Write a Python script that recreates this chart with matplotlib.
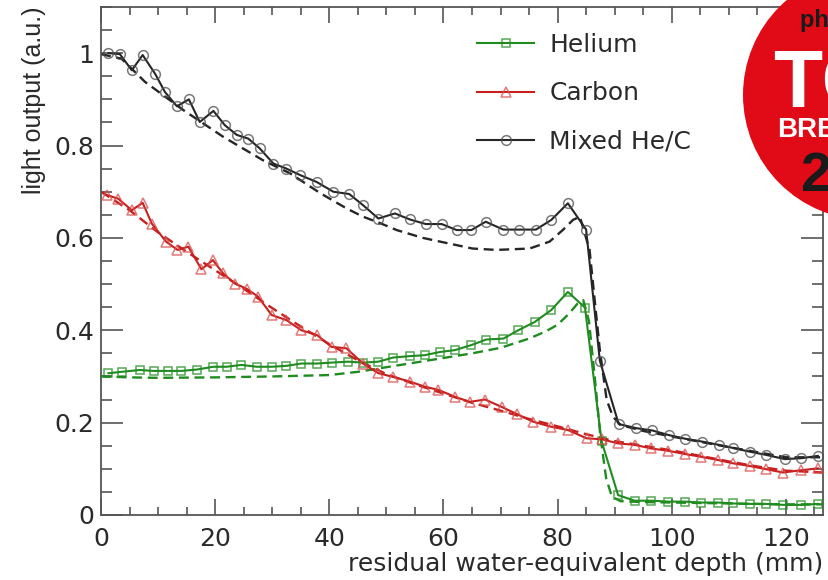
import matplotlib
matplotlib.use("Agg")
import matplotlib.pyplot as plt
from matplotlib.patches import Ellipse
from matplotlib.ticker import MultipleLocator, FuncFormatter

plt.rcParams['font.family'] = ['DejaVu Sans']

# ---------------- data ----------------
he_x = [1.3, 3.6, 6.8, 9.2, 11.8, 14.1, 16.8, 19.7, 22.0, 24.6, 27.3, 29.9, 32.5, 35.1,
        37.8, 40.4, 43.3, 45.9, 48.6, 51.2, 54.1, 56.7, 59.4, 62.0, 64.9, 67.5, 70.5,
        73.1, 76.0, 78.9, 81.8, 84.8, 87.7, 90.6, 93.5, 96.4, 99.4, 102.3, 105.2, 108.1,
        110.7, 113.7, 116.6, 119.5, 122.7, 125.6]
he_y = [0.307, 0.310, 0.314, 0.312, 0.312, 0.312, 0.315, 0.321, 0.321, 0.325, 0.321,
        0.321, 0.323, 0.328, 0.328, 0.330, 0.332, 0.330, 0.332, 0.341, 0.344, 0.346,
        0.353, 0.357, 0.368, 0.380, 0.382, 0.400, 0.418, 0.444, 0.483, 0.449, 0.160,
        0.043, 0.031, 0.031, 0.029, 0.029, 0.027, 0.027, 0.025, 0.024, 0.024, 0.022,
        0.022, 0.024]

c_x = [1.0, 3.0, 5.4, 7.3, 8.9, 11.4, 13.4, 15.3, 17.6, 19.6, 21.4, 23.5, 25.5, 27.5,
       29.9, 32.5, 35.1, 37.8, 40.4, 43.0, 45.9, 48.6, 51.2, 54.1, 56.7, 59.1, 62.0,
       64.6, 67.3, 70.2, 72.8, 75.7, 78.9, 81.8, 85.1, 87.7, 90.6, 93.5, 96.4, 99.4,
       102.3, 105.2, 108.1, 110.7, 113.7, 116.6, 119.5, 122.7, 125.6]
c_y = [0.693, 0.685, 0.660, 0.676, 0.631, 0.592, 0.574, 0.581, 0.532, 0.552, 0.523,
       0.501, 0.490, 0.473, 0.433, 0.422, 0.400, 0.390, 0.364, 0.361, 0.328, 0.307,
       0.299, 0.289, 0.278, 0.271, 0.256, 0.245, 0.250, 0.234, 0.219, 0.202, 0.191,
       0.184, 0.166, 0.164, 0.155, 0.152, 0.144, 0.139, 0.132, 0.126, 0.119, 0.112,
       0.106, 0.099, 0.092, 0.097, 0.101]

m_x = [1.3, 3.3, 5.4, 7.3, 9.5, 11.2, 13.3, 15.4, 17.3, 19.7, 21.7, 23.8, 25.8, 27.8,
       30.2, 32.5, 34.9, 37.8, 40.7, 43.5, 45.9, 48.6, 51.5, 54.1, 56.9, 59.7, 62.3,
       64.9, 67.4, 70.5, 73.3, 76.2, 78.9, 81.8, 85.0, 87.4, 90.7, 93.8, 96.6, 99.5,
       102.4, 105.3, 108.2, 110.8, 113.7, 116.6, 119.8, 122.7, 125.6]
m_y = [1.000, 0.998, 0.963, 0.996, 0.955, 0.916, 0.885, 0.900, 0.851, 0.875, 0.844,
       0.823, 0.815, 0.794, 0.761, 0.750, 0.736, 0.721, 0.700, 0.695, 0.671, 0.642,
       0.653, 0.640, 0.630, 0.630, 0.617, 0.617, 0.635, 0.618, 0.618, 0.618, 0.639,
       0.675, 0.618, 0.334, 0.197, 0.188, 0.183, 0.173, 0.165, 0.159, 0.152, 0.145,
       0.137, 0.130, 0.121, 0.123, 0.128]

# simulations (dashed)
hs_x = [0, 5, 10, 20, 30, 40, 45, 50, 55, 60, 65, 70, 75, 78, 80, 82, 83.5, 84.5,
        85.5, 86.5, 87.5, 88.5, 89.5, 91, 95, 100, 110, 120, 126.5]
hs_y = [0.300, 0.298, 0.297, 0.298, 0.300, 0.303, 0.310, 0.320, 0.330, 0.340, 0.350,
        0.362, 0.382, 0.398, 0.412, 0.436, 0.458, 0.465, 0.420, 0.300, 0.170, 0.080,
        0.040, 0.030, 0.028, 0.027, 0.025, 0.023, 0.023]

cs_x = [0, 5, 10, 15, 20, 25, 30, 35, 40, 45, 50, 55, 60, 65, 70, 75, 80, 85, 90, 95,
        100, 105, 110, 115, 120, 126.5]
cs_y = [0.700, 0.660, 0.612, 0.570, 0.530, 0.490, 0.448, 0.408, 0.370, 0.335, 0.305,
        0.283, 0.263, 0.243, 0.226, 0.208, 0.192, 0.175, 0.160, 0.150, 0.140, 0.128,
        0.116, 0.105, 0.096, 0.092]

ms_x = [0, 3.6, 7.7, 14.4, 21.4, 28.4, 33.1, 38.4, 43.0, 45.9, 48.9, 51.8, 56.4, 59.4,
        65.1, 69.3, 75.1, 78.6, 80.9, 82.7, 83.9, 85.6, 86.5, 87.4, 88.6, 89.7, 91, 95,
        100, 110, 120, 126.5]
ms_y = [0.998, 0.988, 0.938, 0.877, 0.819, 0.768, 0.740, 0.697, 0.664, 0.646, 0.632,
        0.617, 0.600, 0.592, 0.577, 0.574, 0.577, 0.592, 0.617, 0.639, 0.646, 0.574,
        0.465, 0.357, 0.249, 0.213, 0.195, 0.182, 0.170, 0.147, 0.125, 0.125]

labels = ["Helium", "Carbon", "Mixed He/C"]
x_label = "residual water-equivalent depth (mm)"
y_label = "light output (a.u.)"

# ---------------- styles ----------------
GREEN = "#1f8c1f"
RED = "#c8201e"
BLACK = "#262626"
AXC = "#555555"
TXT = "#2a2a2a"

fig = plt.figure(figsize=(8.29, 5.80), dpi=100)
ax = fig.add_axes([101/829, 1-515/580, (823-101)/829, (515-7)/580])

dash = (0, (4.2, 2.4))
ax.plot(hs_x, hs_y, color=GREEN, lw=1.7, ls=dash, zorder=2)
ax.plot(cs_x, cs_y, color=RED, lw=1.7, ls=dash, zorder=2)
ax.plot(ms_x, ms_y, color=BLACK, lw=1.7, ls=dash, zorder=2)

ax.plot(he_x, he_y, color=GREEN, lw=1.5, marker='s', ms=6, mfc='none',
        mec=(0.12, 0.55, 0.12, 0.75), mew=1.1, label=labels[0], zorder=3)
ax.plot(c_x, c_y, color=RED, lw=1.5, marker='^', ms=6.5, mfc='none',
        mec=(0.85, 0.3, 0.3, 0.75), mew=1.1, label=labels[1], zorder=3)
ax.plot(m_x, m_y, color=BLACK, lw=1.5, marker='o', ms=7, mfc='none',
        mec=(0.3, 0.3, 0.3, 0.75), mew=1.1, label=labels[2], zorder=3)

ax.set_xlim(0, 126.5)
ax.set_ylim(0, 1.1)

for s in ax.spines.values():
    s.set_color(AXC)
    s.set_linewidth(1.3)

ax.xaxis.set_major_locator(MultipleLocator(20))
ax.xaxis.set_minor_locator(MultipleLocator(5))
ax.yaxis.set_major_locator(MultipleLocator(0.2))
ax.yaxis.set_minor_locator(MultipleLocator(0.05))
ax.yaxis.set_major_formatter(FuncFormatter(lambda v, p: "%g" % round(v, 2)))
ax.tick_params(axis='both', which='both', direction='in', top=True, right=True,
               colors=AXC, labelcolor=TXT, labelsize=18, width=1.2)
ax.tick_params(axis='x', which='major', length=11.5, pad=9)
ax.tick_params(axis='x', which='minor', length=5.5)
ax.tick_params(axis='y', which='major', length=15.5, pad=5)
ax.tick_params(axis='y', which='minor', length=8)

ax.set_xlabel(x_label, fontsize=18, color=TXT, loc='right', labelpad=0)
ax.set_ylabel(y_label, fontsize=18, color=TXT, loc='top', labelpad=6,
              family=['Liberation Sans', 'DejaVu Sans'])

leg = ax.legend(loc='upper left', bbox_to_anchor=(477/829, 1-33/580),
                bbox_transform=fig.transFigure, frameon=False, fontsize=18,
                handlelength=2.3, handletextpad=0.6, labelspacing=0.97,
                numpoints=1, borderaxespad=0, borderpad=0)
for t in leg.get_texts():
    t.set_color(TXT)

# ---------------- badge ----------------
r = 125
badge = Ellipse((868/829, 1-95/580), 2*r/829, 2*r/580, transform=fig.transFigure,
                facecolor="#e10a17", edgecolor='none', zorder=10)
fig.add_artist(badge)
bfam = ['Liberation Sans Narrow', 'Liberation Sans', 'DejaVu Sans']
fig.text(800/829, 1-27/580, "physics world", fontsize=17, fontweight='bold',
         color="#1a1a1a", family=bfam, ha='left', va='baseline', zorder=11)
fig.text(774/829, 1-107/580, "TOP 10", fontsize=58, fontweight='bold',
         color="white", family=bfam, ha='left', va='baseline', zorder=11)
fig.text(777/829, 1-137/580, "BREAKTHROUGH", fontsize=20, fontweight='bold',
         color="white", family=bfam, ha='left', va='baseline', zorder=11)
fig.text(800/829, 1-192/580, "2019", fontsize=40, fontweight='bold',
         color="#1a1a1a", family=bfam, ha='left', va='baseline', zorder=11)

fig.savefig("out.png", dpi=100)
